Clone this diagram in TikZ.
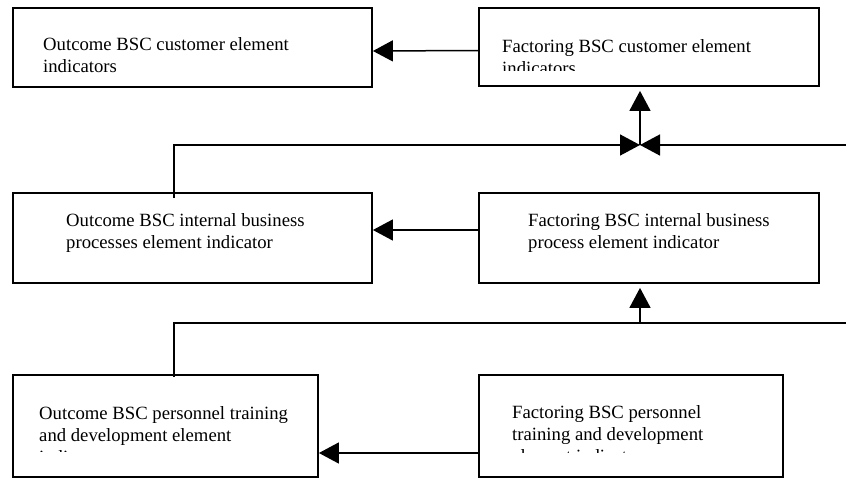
\documentclass[tikz,border=0pt]{standalone}
\usepackage{fontspec}
\setmainfont{Liberation Serif}
\usetikzlibrary{arrows.meta,calc}
\begin{document}
\begin{tikzpicture}[x=1pt,y=-1pt,
  box/.style={draw,line width=1.8pt,rectangle,inner sep=0pt},
  lbl/.style={anchor=north west,inner sep=0pt,align=left,font=\fontsize{18.7}{22.3}\selectfont},
  conn/.style={line width=1.5pt},
  arr/.style={conn,-{Triangle[length=20pt,width=21pt]}}]
\useasboundingbox (0,0) rectangle (846,479);

% boxes
\node[box,minimum width=359pt,minimum height=79pt] (A) at (192.5,47.5) {};
\node[box,minimum width=340pt,minimum height=78pt] (B) at (649,47) {};
\node[box,minimum width=359pt,minimum height=90pt] (C) at (192.5,238) {};
\node[box,minimum width=340pt,minimum height=90pt] (D) at (649,238) {};
\node[box,minimum width=305pt,minimum height=102pt] (E) at (165.5,426) {};
\node[box,minimum width=304pt,minimum height=102pt] (F) at (631,426) {};

% texts
\node[lbl] (tA) at (43,37) {Outcome BSC customer element\\indicators};
\begin{scope}
\clip (480,9) rectangle (818,70);
\node[lbl] (tB) at (502,39.5) {Factoring BSC customer element\\indicators};
\end{scope}
\node[lbl] (tC) at (66,213) {Outcome BSC internal business\\processes element indicator};
\node[lbl] (tD) at (528,213) {Factoring BSC internal business\\process element indicator};
\begin{scope}
\clip (14,376) rectangle (317,451);
\node[lbl] (tE) at (39,406) {Outcome BSC personnel training\\and development element\\indicators};
\end{scope}
\begin{scope}
\clip (480,376) rectangle (782,452);
\node[lbl] (tF) at (512,405) {Factoring BSC personnel\\training and development\\element indicators};
\end{scope}

% horizontal arrows
\draw[arr] ([yshift=-3.5pt]B.west) -- ([yshift=-3.5pt]A.east);
\draw[arr] ([yshift=8pt]D.west) -- ([yshift=8pt]C.east);
\draw[arr] ([yshift=-27pt]F.west) -- ([yshift=-27pt]E.east);

% upper feedback
\coordinate (c1) at (174,145);
\coordinate (j1) at (640,145);
\coordinate (r1) at (846,145);
\draw[arr] ($(c1 |- C.north)+(0,6)$) -- (c1) -- (j1);
\draw[arr] (r1) -- (j1);
\draw[arr,shorten >=4pt] (j1) -- (j1 |- B.south);

% lower feedback
\coordinate (c2) at (174,323);
\coordinate (j2) at (640,323);
\coordinate (r2) at (846,323);
\draw[conn] ($(c2 |- E.north)+(0,3)$) -- (c2) -- (r2);
\draw[arr,shorten >=4pt] (j2) -- (j2 |- D.south);
\end{tikzpicture}
\end{document}
